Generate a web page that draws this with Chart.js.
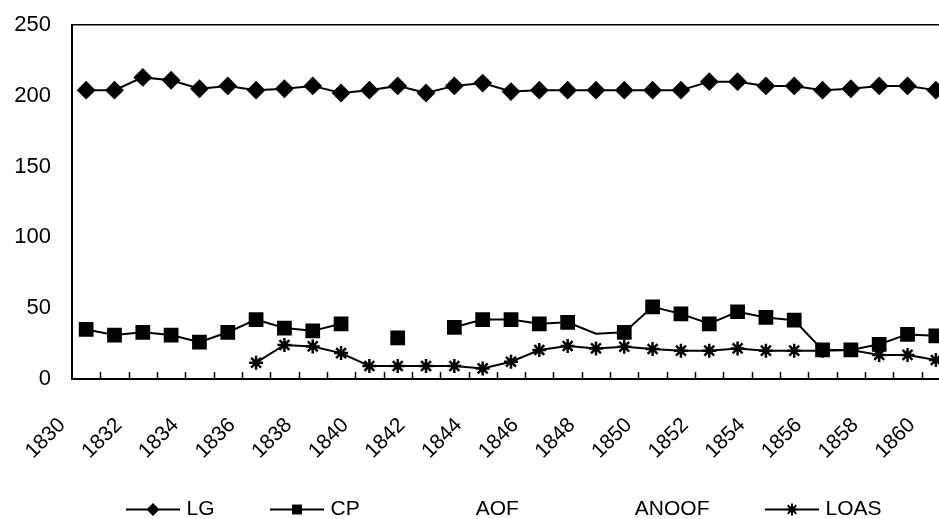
<!DOCTYPE html>
<html>
<head>
<meta charset="utf-8">
<script src="https://cdn.jsdelivr.net/npm/chart.js@4/dist/chart.umd.min.js"></script>
<style>
  html, body { margin: 0; padding: 0; background: #fff; overflow: hidden; }
  #wrap { width: 962px; height: 530px; }
</style>
</head>
<body>
<div id="wrap"><canvas id="chart"></canvas></div>
<script>
// DATA ------------------------------------------------------

const years = ["1830", "1831", "1832", "1833", "1834", "1835", "1836", "1837", "1838", "1839",
               "1840", "1841", "1842", "1843", "1844", "1845", "1846", "1847", "1848", "1849",
               "1850", "1851", "1852", "1853", "1854", "1855", "1856", "1857", "1858", "1859", "1860"];

const lgValues = [204, 204, 213, 211, 205, 207, 204, 205, 207, 202,
                  204, 207, 202, 207, 209, 203, 204, 204, 204, 204,
                  204, 204, 210, 210, 207, 207, 204, 205, 207, 207, 204];

const cpValues = [35, 31, 33, 31, 26, 33, 42, 36, 34, 39,
                  null, 29, null, 36.5, 42, 42, 39, 40, 32, 33,
                  51, 46, 39, 47.5, 43.5, 41.5, 20.5, 20.5, 24.5, 31.5, 30.5];

const aofValues = [];
const anoofValues = [];

const loasValues = [null, null, null, null, null, null, 11.5, 24, 23, 18.3,
                    9.2, 9.2, 9.2, 9.2, 7.5, 12.2, 20.5, 23.3, 21.6, 22.8,
                    21.2, 20, 20, 21.6, 20, 20, 20, 20.5, 17, 17, 13.4];

const yTicks = [0, 50, 100, 150, 200, 250];

// HELPERS ------------------------------------------------------

const FONT = "'Liberation Sans', Arial, sans-serif";
const LEGEND_BOX = 95.5;   // box width, symbol sits in its right part

function noPadding(scale) {
    scale.paddingTop = 0;
    scale.paddingBottom = 0;
    scale.paddingLeft = 0;
    scale.paddingRight = 0;
}

function drawMarker(ctx, style, x, y, r) {
    ctx.beginPath();
    if (style === 'rectRot') {
        ctx.moveTo(x, y - r);
        ctx.lineTo(x + r, y);
        ctx.lineTo(x, y + r);
        ctx.lineTo(x - r, y);
        ctx.closePath();
        ctx.fill();
    } else if (style === 'rect') {
        const s = r / Math.SQRT2;
        ctx.fillRect(x - s, y - s, 2 * s, 2 * s);
    } else if (style === 'star') {
        for (let a = 0; a < 4; a++) {
            const ang = a * Math.PI / 4;
            ctx.moveTo(x - Math.cos(ang) * r, y - Math.sin(ang) * r);
            ctx.lineTo(x + Math.cos(ang) * r, y + Math.sin(ang) * r);
        }
        ctx.stroke();
    }
}

// small inward tick marks on the x axis + legend symbols
const extras = {
    id: 'extras',
    afterDatasetsDraw(chart) {
        const {ctx, chartArea, scales: {x}} = chart;
        ctx.save();
        ctx.strokeStyle = '#000';
        ctx.lineWidth = 1.5;
        ctx.beginPath();
        for (let i = 1; i < years.length; i++) {
            const px = Math.round((x.getPixelForValue(i - 1) + x.getPixelForValue(i)) / 2) + 0.5;
            ctx.moveTo(px, chartArea.bottom);
            ctx.lineTo(px, chartArea.bottom - 7);
        }
        ctx.stroke();
        ctx.restore();
    },
    afterDraw(chart) {
        const {ctx} = chart;
        const boxes = chart.legend.legendHitBoxes;
        ctx.save();
        ctx.strokeStyle = '#000';
        ctx.fillStyle = '#000';
        chart.data.datasets.forEach((ds, i) => {
            if (!ds.borderWidth) return;
            const hb = boxes[i];
            const y = hb.top + hb.height / 2;
            const x0 = hb.left + LEGEND_BOX - 50;
            ctx.lineWidth = 2;
            ctx.beginPath();
            ctx.moveTo(x0, y);
            ctx.lineTo(x0 + 54, y);
            ctx.stroke();
            drawMarker(ctx, ds.pointStyle, x0 + 27, y, ds.legendRadius);
        });
        ctx.restore();
    }
};

// CHART ------------------------------------------------------

const canvas = document.getElementById("chart");

const chartData = {
    labels: years,
    datasets: [
        {
            label: 'LG',
            data: lgValues,
            borderColor: '#000',
            backgroundColor: '#000',
            borderWidth: 2,
            pointStyle: 'rectRot',
            pointRadius: 8,
            legendRadius: 6.5
        },
        {
            label: 'CP',
            data: cpValues,
            borderColor: '#000',
            backgroundColor: '#000',
            borderWidth: 2,
            pointStyle: 'rect',
            pointRadius: ctx => ctx.dataIndex === 18 ? 0 : 9,
            legendRadius: 7
        },
        {
            label: 'AOF',
            data: aofValues,
            borderWidth: 0,
            pointRadius: 0
        },
        {
            label: 'ANOOF',
            data: anoofValues,
            borderWidth: 0,
            pointRadius: 0
        },
        {
            label: 'LOAS',
            data: loasValues,
            borderColor: '#000',
            backgroundColor: '#000',
            borderWidth: 2,
            pointStyle: 'star',
            pointRadius: 7,
            pointBorderWidth: 2.5,
            legendRadius: 6
        }
    ]
};

const chartOptions = {
    responsive: true,
    maintainAspectRatio: false,
    animation: false,
    layout: {
        padding: {left: 0, right: 0, top: 25, bottom: 0}
    },
    scales: {
        x: {
            type: 'category',
            offset: true,
            afterFit: scale => {
                scale.height = 110;
                noPadding(scale);
            },
            grid: {display: false, offset: true},
            border: {display: true, color: '#000', width: 2},
            ticks: {
                autoSkip: false,
                maxRotation: 45,
                minRotation: 45,
                padding: 26,
                labelOffset: -24,
                color: '#000',
                font: {family: FONT, size: 21},
                callback: (v, i) => i % 2 === 0 ? years[i] : ''
            }
        },
        y: {
            min: 0,
            max: 250,
            afterFit: scale => {
                scale.width = 72;
                noPadding(scale);
            },
            afterBuildTicks: scale => { scale.ticks = yTicks.map(v => ({value: v})); },
            grid: {
                drawTicks: false,
                color: c => c.tick && c.tick.value === 250 ? '#000' : 'rgba(0,0,0,0)',
                lineWidth: 1.5
            },
            border: {display: true, color: '#000', width: 2},
            ticks: {
                padding: 21,
                color: '#000',
                font: {family: FONT, size: 22}
            }
        },
        // empty spacer on the right so the legend centres like the original
        spacer: {
            type: 'linear',
            position: 'right',
            afterFit: scale => {
                scale.width = 12;
                noPadding(scale);
            },
            grid: {display: false},
            border: {display: false},
            ticks: {display: false}
        }
    },
    plugins: {
        legend: {
            position: 'bottom',
            labels: {
                boxWidth: LEGEND_BOX,
                boxHeight: 2,
                padding: 10,
                color: '#000',
                font: {family: FONT, size: 21},
                generateLabels: chart => Chart.defaults.plugins.legend.labels.generateLabels(chart)
                    .map(item => Object.assign(item, {fillStyle: 'rgba(0,0,0,0)', strokeStyle: 'rgba(0,0,0,0)', lineWidth: 0}))
            }
        },
        tooltip: {enabled: false}
    }
};

let mainChart = new Chart(canvas, {
    type: 'line',
    data: chartData,
    options: chartOptions,
    plugins: [extras]
});
</script>
</body>
</html>
